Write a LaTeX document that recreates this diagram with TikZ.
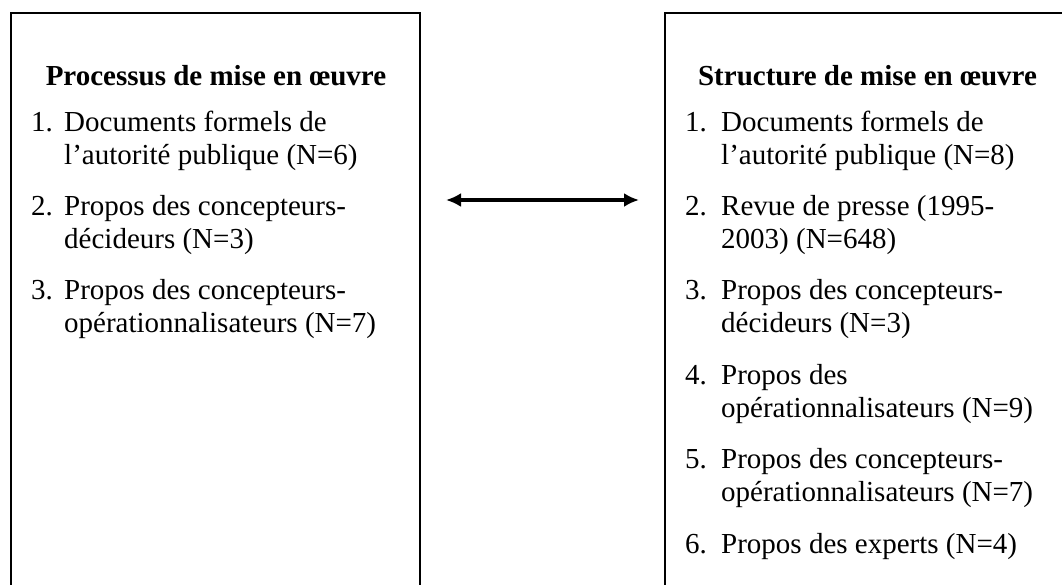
\documentclass[tikz,border=0pt]{standalone}
\usepackage{fontspec}
\setmainfont{Liberation Serif}
\usetikzlibrary{arrows.meta}

\tikzset{
  panel/.style={draw=black, line width=2pt, rectangle, anchor=north west, inner sep=0pt},
  heading/.style={anchor=base, inner sep=0pt, font=\fontsize{29}{33}\selectfont\bfseries},
  itemnum/.style={anchor=base west, inner sep=0pt, font=\fontsize{29}{33}\selectfont},
  itemtext/.style={anchor=base west, inner sep=0pt, font=\fontsize{29}{33}\selectfont},
  link/.style={line width=3.5pt, {Latex[length=15pt,width=14pt]}-{Latex[length=15pt,width=14pt]}}
}

\begin{document}
\begin{tikzpicture}[x=1pt,y=-1pt]
  \useasboundingbox (0,0) rectangle (1062,584);
  \clip (0,0) rectangle (1062,584);

  % the two panels run past the lower (and right) edge of the page
  \node[panel, minimum width=409pt, minimum height=650pt] (procbox) at (10,12) {};
  \node[panel, minimum width=407pt, minimum height=650pt] (structbox) at (664,12) {};

  % left panel: implementation process
  \node[heading] (proctitle) at (216,85) {Processus de mise en œuvre};
  \node[itemnum] (pn1) at (31,131) {1.};
  \node[itemtext] (pa1) at (64,131) {Documents formels de};
  \node[itemtext] (pb1) at (64,164) {l’autorité publique (N=6)};
  \node[itemnum] (pn2) at (31,215.4) {2.};
  \node[itemtext] (pa2) at (64,215.4) {Propos des concepteurs-};
  \node[itemtext] (pb2) at (64,248.4) {décideurs (N=3)};
  \node[itemnum] (pn3) at (31,299.8) {3.};
  \node[itemtext] (pa3) at (64,299.8) {Propos des concepteurs-};
  \node[itemtext] (pb3) at (64,332.8) {opérationnalisateurs (N=7)};

  % right panel: implementation structure
  \node[heading] (structtitle) at (867.5,85) {Structure de mise en œuvre};
  \node[itemnum] (sn1) at (685,131) {1.};
  \node[itemtext] (sa1) at (721,131) {Documents formels de};
  \node[itemtext] (sb1) at (721,164) {l’autorité publique (N=8)};
  \node[itemnum] (sn2) at (685,215.4) {2.};
  \node[itemtext] (sa2) at (721,215.4) {Revue de presse (1995-};
  \node[itemtext] (sb2) at (721,248.4) {2003) (N=648)};
  \node[itemnum] (sn3) at (685,299.8) {3.};
  \node[itemtext] (sa3) at (721,299.8) {Propos des concepteurs-};
  \node[itemtext] (sb3) at (721,332.8) {décideurs (N=3)};
  \node[itemnum] (sn4) at (685,384.2) {4.};
  \node[itemtext] (sa4) at (721,384.2) {Propos des};
  \node[itemtext] (sb4) at (721,417.2) {opérationnalisateurs (N=9)};
  \node[itemnum] (sn5) at (685,468.6) {5.};
  \node[itemtext] (sa5) at (721,468.6) {Propos des concepteurs-};
  \node[itemtext] (sb5) at (721,501.6) {opérationnalisateurs (N=7)};
  \node[itemnum] (sn6) at (685,553) {6.};
  \node[itemtext] (sa6) at (721,553) {Propos des experts (N=4)};

  % two-way link between the panels
  \coordinate (linkleft) at (446,200);
  \coordinate (linkright) at (639,200);
  \draw[link] (linkleft) -- (linkright);
\end{tikzpicture}
\end{document}
